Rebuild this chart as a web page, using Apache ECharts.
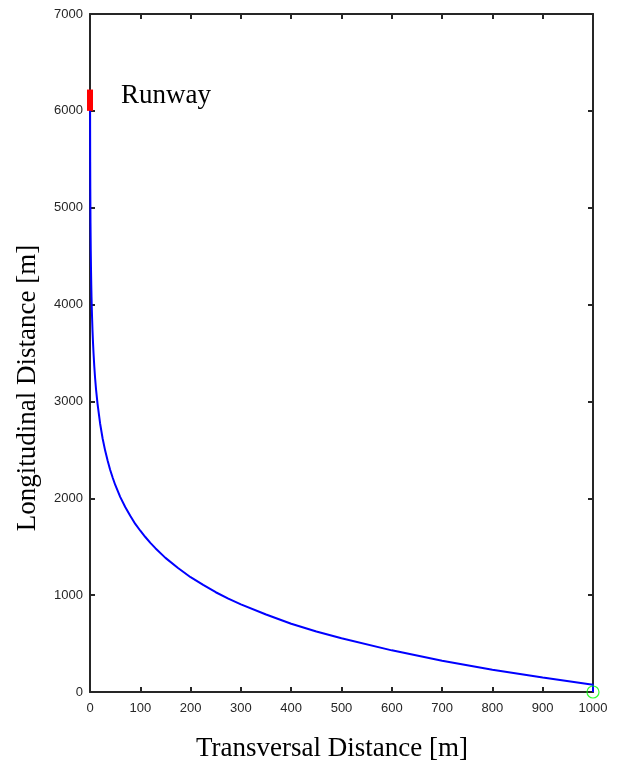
<!DOCTYPE html>
<html>
<head>
<meta charset="utf-8">
<script src="https://cdn.jsdelivr.net/npm/echarts@6/dist/echarts.min.js"></script>
<style>
  html, body { margin: 0; padding: 0; background: #fff; }
  #chart { width: 624px; height: 768px; }
</style>
</head>
<body>
<div id="chart"></div>
<script>
// path of the aircraft (transversal, longitudinal) in metres
const pathX = [1000, 1000, 900, 800, 700, 600, 500, 450, 400, 350, 300, 275, 250, 225, 200, 175, 150, 130, 120, 110, 100, 90, 80, 70, 60, 50, 45, 40, 35, 30, 25, 20, 15, 12, 10, 8.5, 7, 6, 5, 4, 3.5, 3, 2.5, 2, 1.5, 1, 0.6, 0.4, 0.25, 0.18];
const pathY = [0, 75, 150, 230, 322, 430, 555, 625, 705, 800, 905, 965, 1030, 1105, 1185, 1280, 1385, 1485, 1540, 1600, 1665, 1735, 1820, 1910, 2015, 2140, 2215, 2295, 2390, 2495, 2620, 2775, 2975, 3125, 3250, 3365, 3500, 3605, 3730, 3885, 3975, 4080, 4210, 4365, 4560, 4840, 5195, 5475, 5800, 6030];
// runway segment
const runwayX = [0, 0];
const runwayY = [6000, 6220];
// starting point
const startPoint = [1000, 0];

const xTicks = { min: 0, max: 1000, interval: 100 };
const yTicks = { min: 0, max: 7000, interval: 1000 };

const axisColor = '#262626';
const serif = 'Liberation Serif';
const tickFont = { color: axisColor, fontSize: 13, fontFamily: 'Liberation Sans', formatter: v => String(v) };

function frameAxis(extra) {
  return Object.assign({
    type: 'value',
    axisLine: { show: true, onZero: false, lineStyle: { color: axisColor, width: 2 } },
    axisTick: { show: true, inside: true, length: 5, lineStyle: { color: axisColor, width: 2 } },
    splitLine: { show: false }
  }, extra);
}

const chart = echarts.init(document.getElementById('chart'));
chart.setOption({
  animation: false,
  backgroundColor: '#fff',
  grid: { left: 90, right: 31, top: 14, bottom: 76, outerBoundsMode: 'none' },
  xAxis: [
    frameAxis(Object.assign({ position: 'bottom', axisLabel: Object.assign({ margin: 10 }, tickFont) }, xTicks)),
    frameAxis(Object.assign({ position: 'top', axisLabel: { show: false } }, xTicks))
  ],
  yAxis: [
    frameAxis(Object.assign({ position: 'left', axisLabel: Object.assign({ margin: 7 }, tickFont) }, yTicks)),
    frameAxis(Object.assign({ position: 'right', axisLabel: { show: false } }, yTicks))
  ],
  graphic: [
    {
      type: 'text', x: 332, y: 749,
      style: { text: 'Transversal Distance [m]', font: '27px "' + serif + '"', fill: '#000', textAlign: 'center', textVerticalAlign: 'middle' }
    },
    {
      type: 'text', x: 28, y: 388, rotation: Math.PI / 2,
      style: { text: 'Longitudinal Distance [m]', font: '27px "' + serif + '"', fill: '#000', textAlign: 'center', textVerticalAlign: 'middle' }
    },
    {
      type: 'text', x: 121, y: 96,
      style: { text: 'Runway', font: '27px "' + serif + '"', fill: '#000', textAlign: 'left', textVerticalAlign: 'middle' }
    }
  ],
  series: [
    {
      type: 'line',
      data: pathX.map((x, i) => [x, pathY[i]]),
      showSymbol: false,
      lineStyle: { color: '#0000ff', width: 2 },
      z: 3
    },
    {
      type: 'line',
      data: runwayX.map((x, i) => [x, runwayY[i]]),
      showSymbol: false,
      lineStyle: { color: '#ff0000', width: 6, cap: 'butt' },
      z: 4
    },
    {
      type: 'scatter',
      data: [startPoint],
      symbol: 'circle',
      symbolSize: 12,
      itemStyle: { color: 'rgba(0,0,0,0)', borderColor: '#00ff00', borderWidth: 1.2 },
      z: 5
    }
  ]
});
</script>
</body>
</html>
